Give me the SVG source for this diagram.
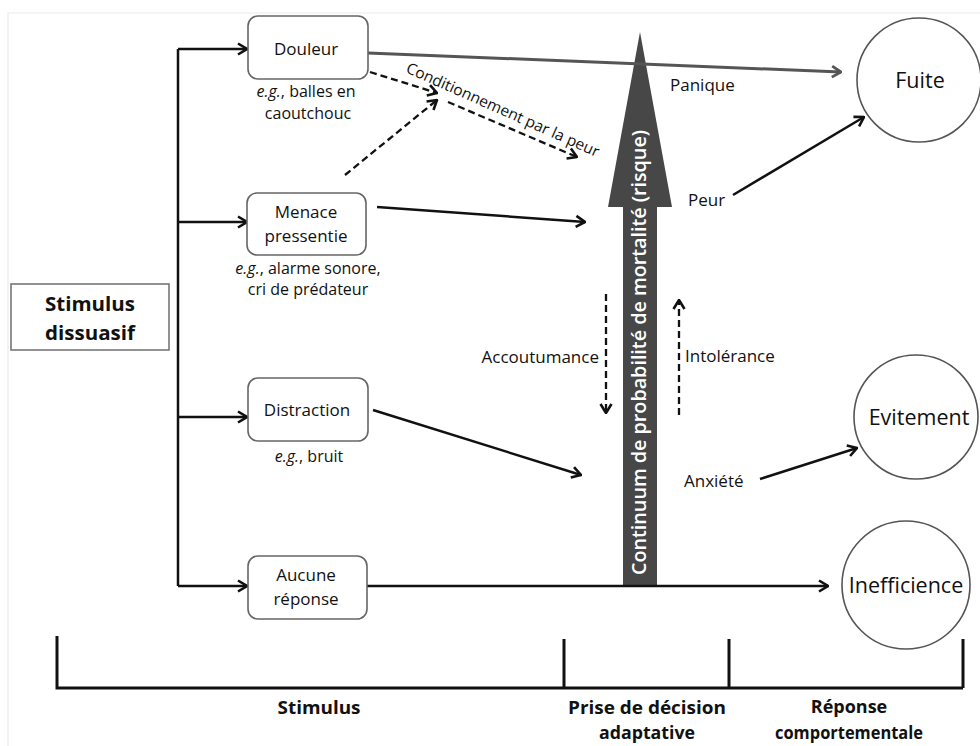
<svg xmlns="http://www.w3.org/2000/svg" width="980" height="746" viewBox="0 0 980 746">
<style>
.t{font-family:"Open Sans","Liberation Sans",sans-serif;fill:#111;}
.n{font-size:17px;text-anchor:middle;}
.s{font-size:16px;text-anchor:middle;}
.l{font-size:17px;}
.c{font-size:21.5px;text-anchor:middle;}
.b{font-weight:bold;text-anchor:middle;}
.box{fill:#fff;stroke:#666;stroke-width:1.6;}
.circ{fill:#fff;stroke:#555;stroke-width:1.6;}
.ln{fill:none;stroke:#111;stroke-width:2.5;}
.dash{fill:none;stroke:#111;stroke-width:2.3;stroke-dasharray:7 4;}
</style>
<defs>
<marker id="ah" viewBox="0 0 12 14" refX="11" refY="7" markerWidth="12" markerHeight="14" orient="auto" markerUnits="userSpaceOnUse">
<path d="M2,1.5 L11,7 L2,12.5" fill="none" stroke="#111" stroke-width="2.6"/>
</marker>
<marker id="ahg" viewBox="0 0 12 14" refX="11" refY="7" markerWidth="12" markerHeight="14" orient="auto" markerUnits="userSpaceOnUse">
<path d="M2,1.5 L11,7 L2,12.5" fill="none" stroke="#555" stroke-width="2.8"/>
</marker>
</defs>
<rect width="980" height="746" fill="#fff"/>
<path d="M8,746 L8,13 L980,13" fill="none" stroke="#ececec" stroke-width="1.2"/>

<g id="risk-arrow">
<polygon points="640,32 672,207 657,207 657,585 623,585 623,207 608,207" fill="#474747"/>
<text class="t" transform="translate(646,352.5) rotate(-90)" text-anchor="middle" font-size="20" font-weight="600" style="fill:#fff" textLength="445" lengthAdjust="spacingAndGlyphs">Continuum de probabilité de mortalité (risque)</text>
</g>

<g id="connectors">
<path class="ln" d="M178,49 L178,586" stroke-width="3"/>
<path class="ln" d="M178,49 L247,49" marker-end="url(#ah)"/>
<path class="ln" d="M178,222 L247,222" marker-end="url(#ah)"/>
<path class="ln" d="M178,417 L247,417" marker-end="url(#ah)"/>
<path class="ln" d="M178,586 L247,586" marker-end="url(#ah)"/>
<path d="M368,53 L841,72" fill="none" stroke="#555" stroke-width="3" marker-end="url(#ahg)"/>
<path class="ln" d="M377,207 L585,222" marker-end="url(#ah)"/>
<path class="ln" d="M373,410 L581,475" marker-end="url(#ah)"/>
<path class="ln" d="M367,586 L828,586" marker-end="url(#ah)"/>
<path class="ln" d="M733,195 L864,117" marker-end="url(#ah)"/>
<path class="ln" d="M760,479 L857,448" marker-end="url(#ah)"/>
<path class="dash" d="M370,72 L437,93" marker-end="url(#ah)"/>
<path class="dash" d="M345,175 L437,100" marker-end="url(#ah)"/>
<path class="dash" d="M448,102 L577,157" marker-end="url(#ah)"/>
<path class="dash" d="M606,294 L606,413" marker-end="url(#ah)"/>
<path class="dash" d="M679,415 L679,300" marker-end="url(#ah)"/>
</g>

<g id="conditionnement-label">
<text class="t" font-size="15.5" transform="translate(405,72) rotate(24)">Conditionnement par la peur</text>
</g>

<g id="stimulus-dissuasif">
<rect x="11" y="284" width="158" height="66" fill="#fff" stroke="#777" stroke-width="1.6"/>
<text class="t b" x="90" y="311" style="font-size:20px" textLength="90" lengthAdjust="spacingAndGlyphs">Stimulus</text>
<text class="t b" x="90" y="340" style="font-size:20px" textLength="90" lengthAdjust="spacingAndGlyphs">dissuasif</text>
</g>

<g id="douleur">
<rect class="box" x="248" y="16" width="120" height="63" rx="10"/>
<text class="t n" x="306" y="55">Douleur</text>
<text class="t s" x="306" y="97"><tspan font-style="italic">e.g.</tspan>, balles en</text>
<text class="t s" x="308" y="119">caoutchouc</text>
</g>

<g id="menace">
<rect class="box" x="247" y="193" width="119" height="62" rx="10"/>
<text class="t n" x="306" y="218">Menace</text>
<text class="t n" x="306" y="242">pressentie</text>
<text class="t s" x="308" y="274"><tspan font-style="italic">e.g.</tspan>, alarme sonore,</text>
<text class="t s" x="308" y="295">cri de prédateur</text>
</g>

<g id="distraction">
<rect class="box" x="248" y="378" width="120" height="63" rx="10"/>
<text class="t n" x="307" y="416">Distraction</text>
<text class="t s" x="309" y="462"><tspan font-style="italic">e.g.</tspan>, bruit</text>
</g>

<g id="aucune">
<rect class="box" x="248" y="556" width="119" height="63" rx="10"/>
<text class="t n" x="306" y="581">Aucune</text>
<text class="t n" x="306" y="605">réponse</text>
</g>

<g id="labels">
<text class="t l" x="670" y="91">Panique</text>
<text class="t l" x="688" y="206">Peur</text>
<text class="t l" x="599" y="363" text-anchor="end">Accoutumance</text>
<text class="t l" x="685" y="362">Intolérance</text>
<text class="t l" x="684" y="487">Anxiété</text>
</g>

<g id="fuite">
<circle class="circ" cx="919" cy="80" r="62"/>
<text class="t c" x="920" y="88">Fuite</text>
</g>
<g id="evitement">
<circle class="circ" cx="916" cy="417" r="62"/>
<text class="t c" x="919" y="425">Evitement</text>
</g>
<g id="inefficience">
<circle class="circ" cx="906" cy="585" r="64"/>
<text class="t c" x="906" y="593">Inefficience</text>
</g>

<g id="timeline">
<path d="M57,636 L57,688 L963,688 M564,639 L564,688 M729,639 L729,688 M963,639 L963,688" fill="none" stroke="#111" stroke-width="3"/>
<text class="t b" x="319" y="714" style="font-size:18px" textLength="83" lengthAdjust="spacingAndGlyphs">Stimulus</text>
<text class="t b" x="647" y="714" style="font-size:18px" textLength="158" lengthAdjust="spacingAndGlyphs">Prise de décision</text>
<text class="t b" x="647" y="739" style="font-size:18px" textLength="96" lengthAdjust="spacingAndGlyphs">adaptative</text>
<text class="t b" x="849" y="713" style="font-size:18px">Réponse</text>
<text class="t b" x="849" y="739" style="font-size:18px" textLength="148" lengthAdjust="spacingAndGlyphs">comportementale</text>
</g>
</svg>
